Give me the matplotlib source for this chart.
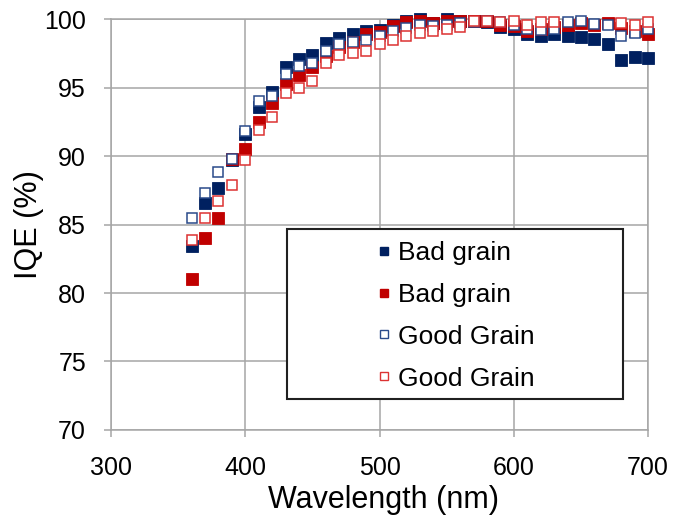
import numpy as np
import matplotlib
matplotlib.use("Agg")
import matplotlib.pyplot as plt
from matplotlib.lines import Line2D
from matplotlib.patches import Rectangle

plt.rcParams['font.family'] = ['Liberation Sans', 'DejaVu Sans']

wavelength = list(range(360, 701, 10))

# bad grain, two measurements (filled markers)
bad_blue = [83.4, 86.6, 87.7, 89.7, 91.6, 93.6, 94.7, 96.5, 97.1, 97.4,
            98.25, 98.6, 98.9, 99.1, 99.2, 99.6, 99.9, 100.0, 99.75, 100.0,
            99.9, 99.9, 99.8, 99.4, 99.3, 98.95, 98.8, 98.9, 98.8, 98.7,
            98.55, 98.2, 97.05, 97.25, 97.15]
bad_red = [81.0, 84.0, 85.5, 89.8, 90.5, 92.5, 93.85, 95.3, 95.9, 96.5,
           97.3, 98.0, 98.3, 98.95, 99.05, 99.5, 99.8, 99.9, 99.7, 99.9,
           99.85, 99.9, 99.85, 99.55, 99.5, 99.1, 99.3, 99.4, 99.6, 99.7,
           99.6, 99.7, 99.35, 99.1, 98.95]

# good grain, two measurements (open markers)
good_blue = [85.5, 87.3, 88.85, 89.8, 91.8, 94.0, 94.4, 96.0, 96.6, 96.8,
             97.7, 98.2, 98.3, 98.5, 98.8, 99.1, 99.35, 99.55, 99.5, 99.6,
             99.7, 99.8, 99.85, 99.8, 99.6, 99.3, 99.2, 99.3, 99.8, 99.85,
             99.65, 99.55, 98.8, 99.0, 99.25]
good_red = [83.9, 85.5, 86.7, 87.9, 89.7, 91.9, 92.85, 94.6, 95.0, 95.5,
            96.8, 97.4, 97.55, 97.7, 98.2, 98.5, 98.8, 99.0, 99.1, 99.25,
            99.45, 99.85, 99.9, 99.8, 99.9, 99.6, 99.8, 99.8, np.nan, np.nan,
            np.nan, np.nan, 99.75, 99.6, 99.8]

labels = ["Bad grain", "Bad grain", "Good Grain", "Good Grain"]

NAVY = "#002060"
DARKRED = "#C00000"
OPEN_BLUE = "#2A4A8A"
OPEN_RED = "#DC3232"
GRID = "#A6A6A6"

fig = plt.figure(figsize=(6.73, 5.18), dpi=100)
ax = fig.add_axes([0.165, 0.170, 0.798, 0.793])

ms = 8
ax.plot(wavelength, bad_blue, 's', ms=ms, mfc=NAVY, mec=NAVY, mew=0.6, clip_on=False, zorder=3)
ax.plot(wavelength, bad_red, 's', ms=ms, mfc=DARKRED, mec=DARKRED, mew=0.6, clip_on=False, zorder=3)
ax.plot(wavelength, good_blue, 's', ms=ms - 0.6, mfc="white", mec=OPEN_BLUE, mew=1.1, clip_on=False, zorder=3)
ax.plot(wavelength, good_red, 's', ms=ms - 0.6, mfc="white", mec=OPEN_RED, mew=1.1, clip_on=False, zorder=3)

ax.set_xlim(300, 700)
ax.set_ylim(70, 100)
ax.set_xticks(range(300, 701, 100))
ax.set_yticks(range(70, 101, 5))
ax.grid(True, color=GRID, lw=1.1)
ax.set_axisbelow(True)
for s in ax.spines.values():
    s.set_color(GRID)
    s.set_linewidth(1.1)
ax.tick_params(axis='both', direction='out', length=5, width=1.1, color=GRID,
               labelsize=18, labelcolor='black')
ax.tick_params(axis='x', pad=14)
ax.tick_params(axis='y', pad=13)

ax.set_xlabel("Wavelength (nm)", fontsize=22)
ax.set_ylabel("IQE (%)", fontsize=22)
ax.xaxis.set_label_coords(0.507, -0.133)
ax.yaxis.set_label_coords(-0.124, 0.5)

# legend: wide framed box with the entries set inside it
ax.add_patch(Rectangle((0.328, 0.075), 0.625, 0.414, transform=ax.transAxes,
                       fill=True, fc="white", ec="#202020", lw=1.5, zorder=5))
handles = [
    Line2D([], [], ls='none', marker='s', ms=6, mfc=NAVY, mec=NAVY),
    Line2D([], [], ls='none', marker='s', ms=6, mfc=DARKRED, mec=DARKRED),
    Line2D([], [], ls='none', marker='s', ms=5.5, mfc='white', mec=OPEN_BLUE, mew=1.0),
    Line2D([], [], ls='none', marker='s', ms=5.5, mfc='white', mec=OPEN_RED, mew=1.0),
]
leg = ax.legend(handles, labels, loc='center', bbox_to_anchor=(0.638, 0.278),
                frameon=False, fontsize=19, handlelength=0.8, handletextpad=0.12,
                labelspacing=0.68, borderpad=0)
leg.set_zorder(6)

fig.savefig("out.png", dpi=100)
